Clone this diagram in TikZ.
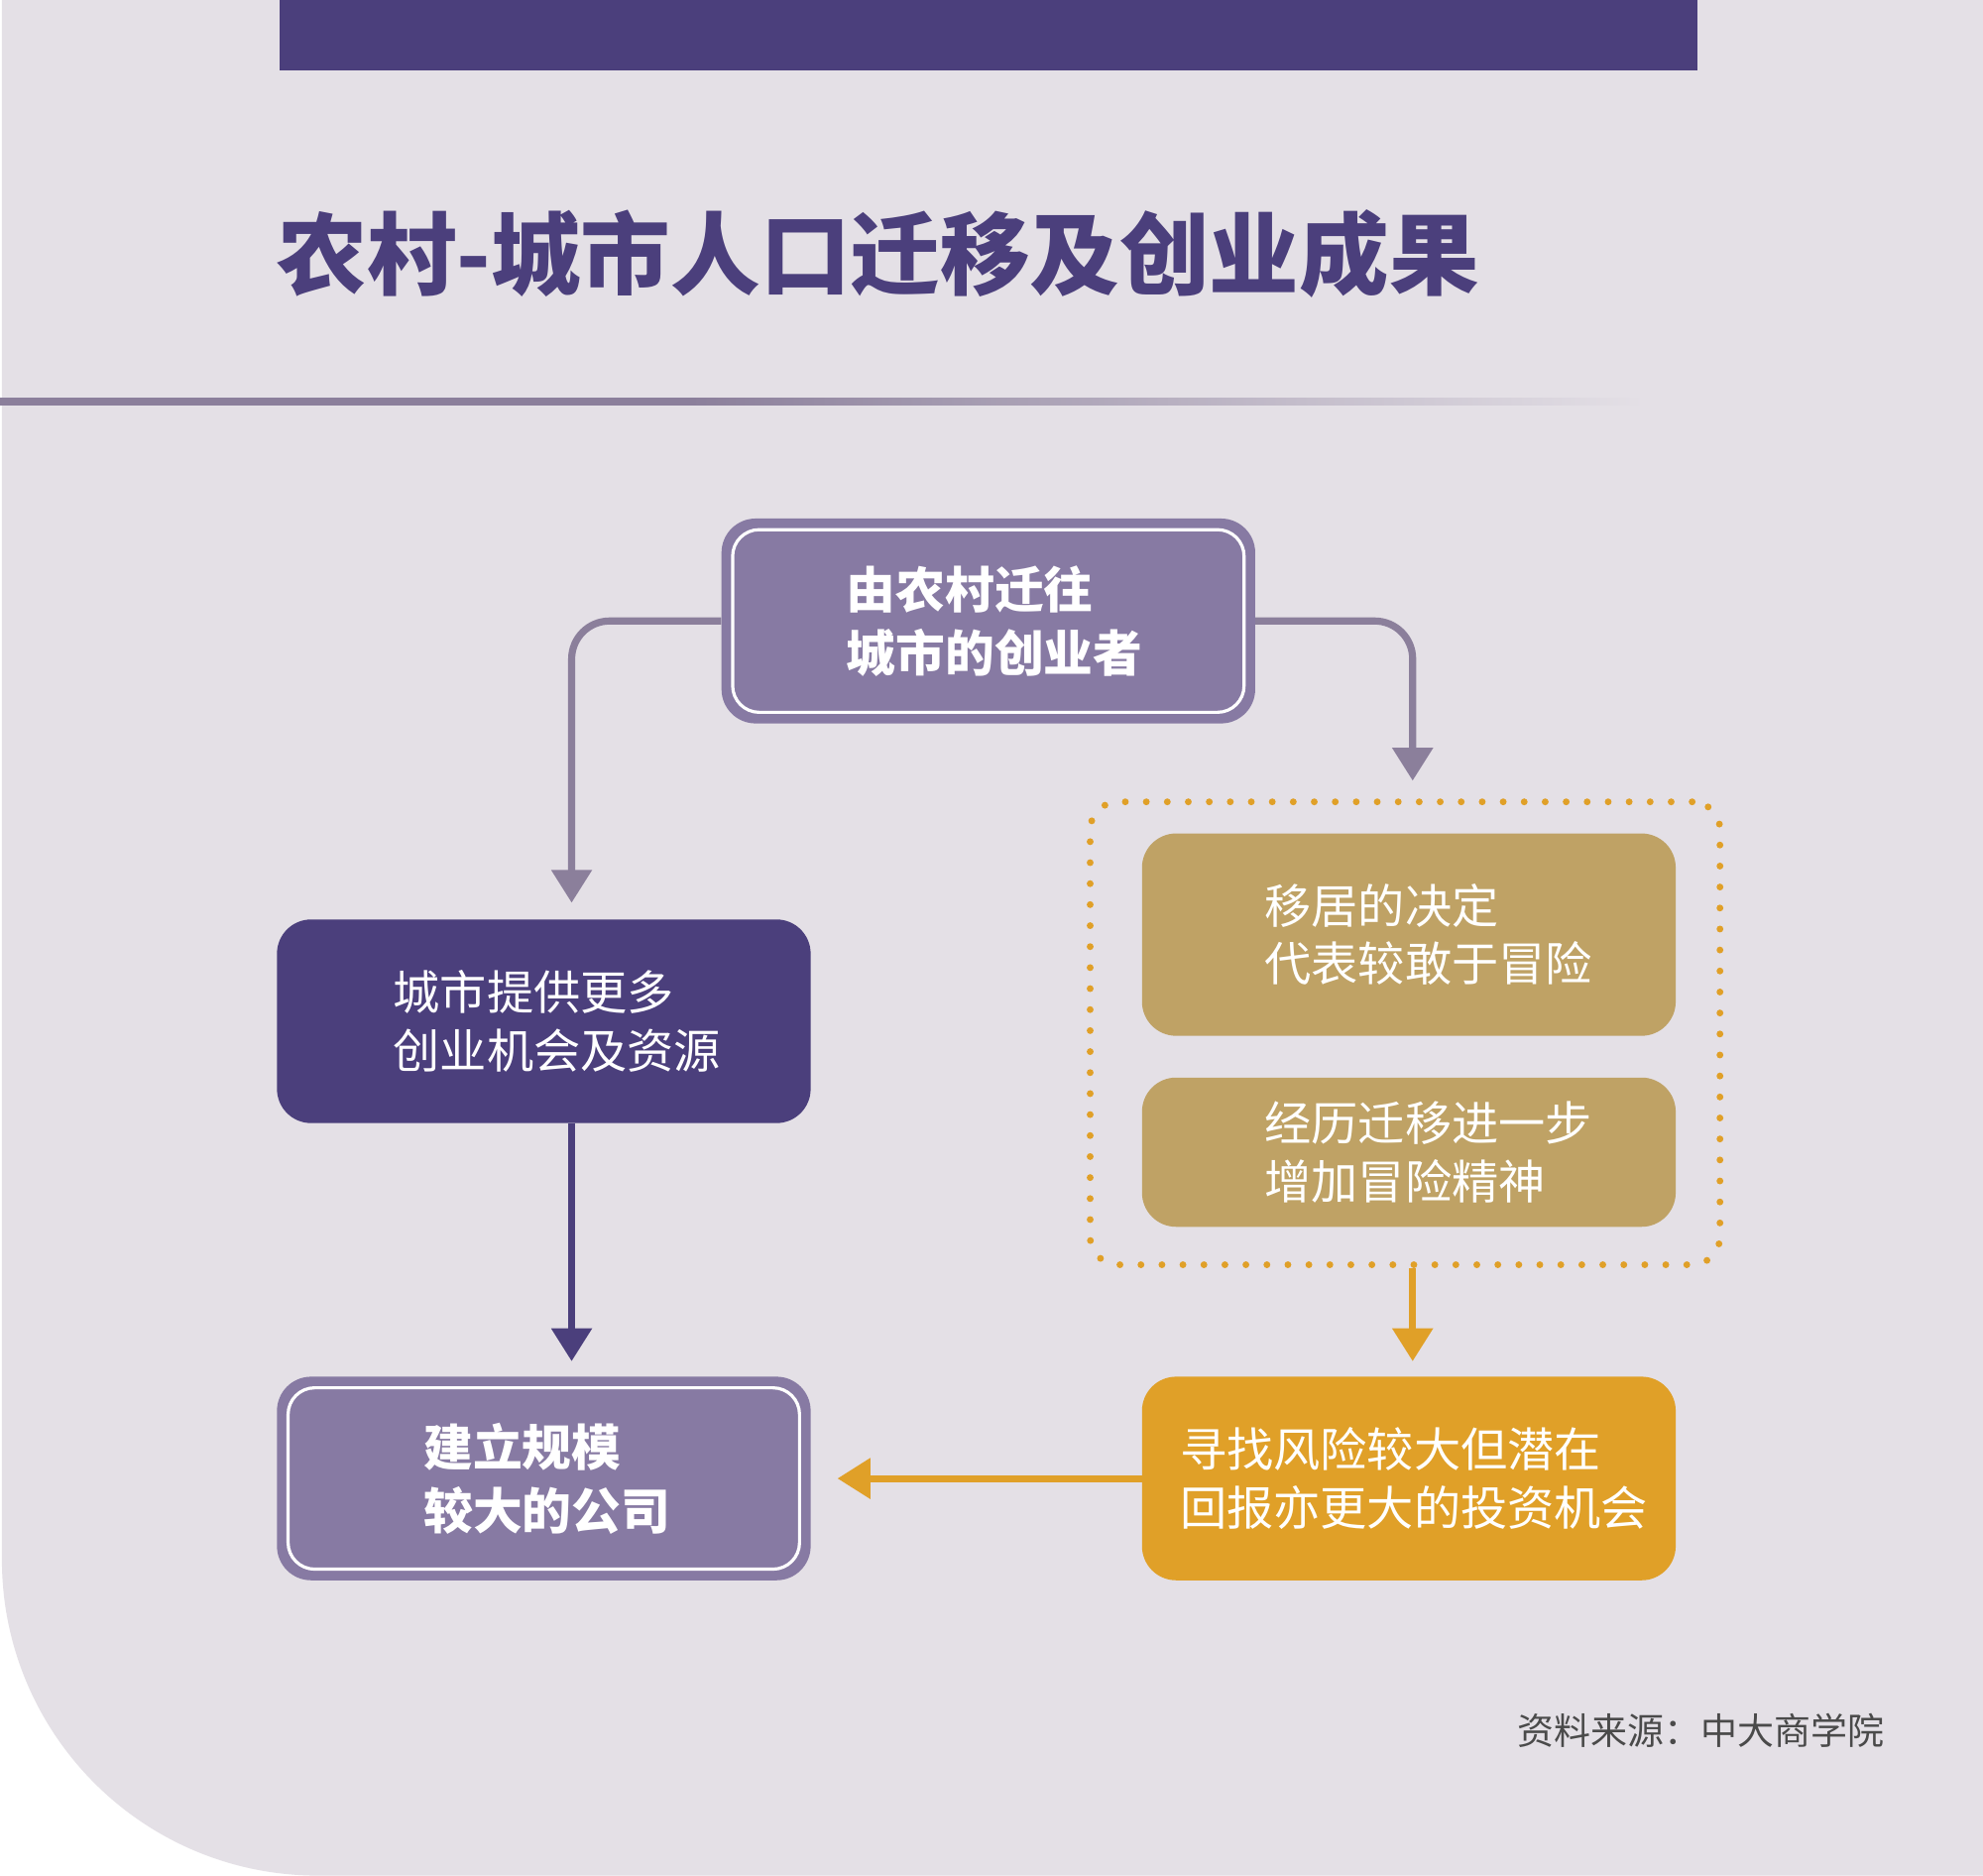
\documentclass[tikz,border=0pt]{standalone}
\usepackage{fontspec}
\setmainfont{Noto Sans CJK SC}
\usetikzlibrary{arrows.meta}

\definecolor{panelbg}{HTML}{E4E0E6}
\definecolor{deeppurple}{HTML}{4B3F7C}
\definecolor{midpurple}{HTML}{877AA3}
\definecolor{greypurple}{HTML}{8B7F9B}
\definecolor{goldbox}{HTML}{BFA265}
\definecolor{amber}{HTML}{E0A028}
\definecolor{sourcegrey}{HTML}{4A4A4A}

\pgfdeclarehorizontalshading{rulefade}{100bp}{color(0bp)=(greypurple); color(25bp)=(greypurple); color(46bp)=(greypurple); color(75bp)=(panelbg); color(100bp)=(panelbg)}

\begin{document}
\begin{tikzpicture}[x=1pt,y=-1pt,
    box/.style={rectangle, rounded corners=27pt, minimum width=422pt, minimum height=161pt, inner sep=0pt},
    txt/.style={text=white, align=left, inner sep=0pt, anchor=west, font=\fontsize{37}{46}\selectfont},
    boldtxt/.style={txt, font=\fontsize{39}{50}\selectfont\bfseries},
    link/.style={line width=5.6pt, -{Triangle[length=26pt,width=31pt]}}]

      \useasboundingbox (0,0) rectangle (1568,1483);
      \fill[white] (0,0) rectangle (1568,1483);
      \fill[panelbg] (1.5,0) -- (1568,0) -- (1568,1483) -- (251.5,1483)
        .. controls (113,1483) and (1.5,1371) .. (1.5,1233) -- cycle;

      % header
      \fill[deeppurple] (221,0) rectangle (1342,56);
      \node[anchor=west, inner sep=0pt, text=deeppurple, font=\fontsize{71}{71}\selectfont\bfseries] (title) at (219,201) {农村-城市人口迁移及创业成果};
      \shade[shading=rulefade] (0,314.5) rectangle (1300,320);

      \begin{scope}[every node/.style={box}]
        \node[fill=midpurple, minimum height=162pt] (founder) at (781.5,491) {};
        \node[fill=deeppurple] (cityres) at (430,807.5) {};
        \node[fill=goldbox, minimum height=160pt] (boldmove) at (1114,739) {};
        \node[fill=goldbox, minimum height=118pt] (riskspirit) at (1114,911) {};
        \node[fill=amber] (riskinvest) at (1114,1169) {};
        \node[fill=midpurple] (bigfirm) at (430,1169) {};
        \node[draw=amber, line width=5.4pt, line cap=round, dash pattern=on 0pt off 16.6pt,
              rounded corners=22pt, minimum width=498pt, minimum height=366pt] (riskframe) at (1111,817) {};
      \end{scope}

      \foreach \b in {founder,bigfirm}
        \draw[white, line width=2.5pt, rounded corners=21pt] ([xshift=9pt,yshift=-9pt]\b.north west) rectangle ([xshift=-9pt,yshift=9pt]\b.south east);

      \node[boldtxt] (founderlbl) at ([xshift=99pt]founder.west) {由农村迁往\\城市的创业者};
      \node[txt] (cityreslbl) at ([xshift=92pt]cityres.west) {城市提供更多\\创业机会及资源};
      \node[txt] (boldmovelbl) at ([xshift=97pt]boldmove.west) {移居的决定\\代表较敢于冒险};
      \node[txt] (riskspiritlbl) at ([xshift=97pt]riskspirit.west) {经历迁移进一步\\增加冒险精神};
      \node[txt] (riskinvestlbl) at ([xshift=30pt]riskinvest.west) {寻找风险较大但潜在\\回报亦更大的投资机会};
      \node[boldtxt] (bigfirmlbl) at ([xshift=116pt]bigfirm.west) {建立规模\\较大的公司};

      % connectors
      \draw[link, greypurple, rounded corners=30pt] (founder.west) -| ([xshift=22pt,yshift=13pt]cityres.north);
      \draw[link, greypurple, rounded corners=30pt] (founder.east) -| ([xshift=6pt,yshift=14pt]riskframe.north);
      \draw[link, deeppurple] ([xshift=22pt]cityres.south) -- ([xshift=22pt,yshift=12pt]bigfirm.north);
      \draw[link, amber] ([xshift=6pt]riskframe.south) -- ([xshift=3pt,yshift=12pt]riskinvest.north);
      \draw[link, amber] (riskinvest.west) -- ([xshift=21pt]bigfirm.east);

      \node[anchor=east, inner sep=0pt, text=sourcegrey, font=\fontsize{29}{29}\selectfont] (source) at (1490,1368) {资料来源：中大商学院};

    \end{tikzpicture}
\end{document}
